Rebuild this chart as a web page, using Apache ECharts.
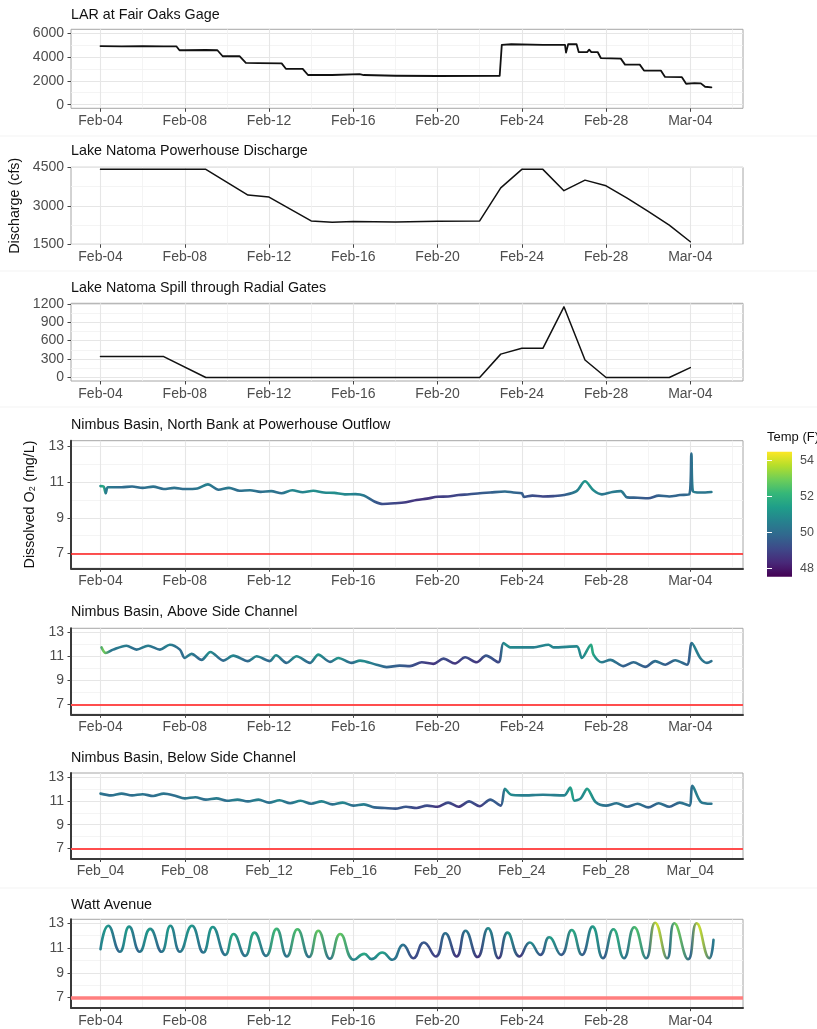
<!DOCTYPE html>
<html><head><meta charset="utf-8">
<script src="https://cdn.jsdelivr.net/npm/echarts@6/dist/echarts.min.js"></script>
<style>html,body{margin:0;padding:0;background:#fff}#c{width:817px;height:1029px}</style>
</head><body><div id="c"></div>
<script>
// ---------------- DATA ----------------
const xTickLabels = ['Feb-04','Feb-08','Feb-12','Feb-16','Feb-20','Feb-24','Feb-28','Mar-04'];
const xTickLabelsUnderscore = ['Feb_04','Feb_08','Feb_12','Feb_16','Feb_20','Feb_24','Feb_28','Mar_04'];
const panelTitles = ['LAR at Fair Oaks Gage','Lake Natoma Powerhouse Discharge','Lake Natoma Spill through Radial Gates',
  'Nimbus Basin, North Bank at Powerhouse Outflow','Nimbus Basin, Above Side Channel','Nimbus Basin, Below Side Channel','Watt Avenue'];
const dischargeTitle = 'Discharge (cfs)';
const doTitle = 'Dissolved O\u2082 (mg/L)';
const legendTitle = 'Temp (F)';
const doThreshold = 7;
const larTicks = [0,2000,4000,6000];
const phTicks = [1500,3000,4500];
const spTicks = [0,300,600,900,1200];
const doTicks = [7,9,11,13];
const tempTicks = [48,50,52,54];

// days since Feb-04 00:00
const larDay = [0,1,2,3,3.6,3.75,4,5,5.55,5.8,6.6,6.9,7.5,8.6,8.8,9.6,9.85,11,12.3,12.5,14,16,18.95,19.05,19.5,21,22.05,22.1,22.2,22.6,22.7,23.1,23.2,23.3,23.6,23.75,24.7,24.9,25.6,25.8,26.6,26.8,27.6,27.8,28.2,28.5,28.7,29.0];
const larFlow = [4900,4880,4900,4880,4880,4550,4550,4570,4550,4050,4050,3500,3480,3450,3000,3000,2480,2480,2550,2480,2420,2400,2420,5000,5050,5000,5000,4350,5050,5050,4400,4400,4600,4400,4400,3900,3850,3350,3350,2850,2850,2320,2300,1750,1800,1780,1500,1450];

const phDay  = [0,5,7,8,10,11,12,14,16,18,19,20,21,22,23,24,25,26,27,28];
const phFlow = [4420,4420,3420,3340,2410,2360,2390,2370,2400,2410,3700,4420,4420,3590,4000,3780,3300,2780,2250,1600];

const spDay  = [0,3,5,18,19,20,21,22,23,24,27,28];
const spFlow = [340,340,0,0,380,475,475,1150,285,0,0,160];

const nbDay = [0,0.15,0.25,0.35,1.0,1.5,2.0,2.5,3.0,3.5,4.0,4.6,5.1,5.6,6.1,6.6,7.1,7.6,8.1,8.6,9.1,9.6,10.1,10.6,11.1,11.6,12.1,12.5,13.0,13.4,14.0,14.5,15.0,15.5,16.0,16.5,17.0,17.5,18.0,18.5,19.2,19.6,20.0,20.1,20.5,21.0,21.5,22.0,22.6,23.0,23.4,23.8,24.3,24.7,25.0,25.5,26.0,26.5,27.0,27.5,27.95,28.05,28.12,28.5,29.0];
const nbDO  = [10.78,10.75,10.38,10.72,10.72,10.76,10.68,10.75,10.62,10.68,10.62,10.65,10.88,10.58,10.68,10.52,10.55,10.46,10.5,10.38,10.55,10.44,10.52,10.42,10.4,10.32,10.33,10.25,9.92,9.78,9.82,9.88,10.0,10.08,10.18,10.2,10.28,10.32,10.38,10.42,10.48,10.42,10.38,10.18,10.25,10.2,10.22,10.28,10.5,11.05,10.55,10.32,10.45,10.5,10.15,10.13,10.1,10.25,10.2,10.28,10.32,12.6,10.5,10.42,10.45];
const nbTemp= [50.3,51.5,51.8,50.5,50.0,50.0,50.0,50.2,50.0,50.2,50.0,50.2,50.6,50.0,50.4,50.0,50.3,50.0,50.3,50.0,50.8,50.6,51.0,50.8,51.0,50.8,50.6,50.4,49.5,49.2,49.0,48.8,48.6,48.6,48.8,48.9,49.0,49.3,49.5,49.6,50.0,49.8,49.6,49.4,49.2,49.0,49.2,49.6,50.6,51.3,50.8,50.2,50.4,50.4,49.8,49.6,49.4,49.8,49.8,49.8,50.0,50.6,50.4,50.2,50.4];

const abDay = [0.05,0.25,0.6,1.23,1.71,2.26,2.82,3.29,3.77,4.0,4.32,4.8,5.22,5.83,6.3,7.0,7.41,8.04,8.33,8.83,9.31,9.94,10.34,10.9,11.29,11.92,12.32,13.1,13.58,14.2,14.69,15.25,15.8,16.28,16.83,17.31,17.86,18.3,18.89,19.13,19.45,20.55,21.27,21.5,22.61,22.85,23.28,23.4,23.8,24.2,24.83,25.3,25.86,26.33,26.81,27.28,27.84,28.07,28.47,28.79,29.0];
const abDO  = [11.74,11.27,11.55,11.88,11.55,11.88,11.55,11.96,11.55,10.86,11.2,10.7,11.36,10.64,11.05,10.6,11.0,10.6,11.08,10.45,11.0,10.45,11.14,10.53,10.86,10.45,10.64,10.3,10.1,10.22,10.18,10.5,10.37,10.8,10.4,10.92,10.5,11.05,10.5,12.1,11.74,11.74,11.96,11.74,11.82,10.86,11.96,11.14,10.5,10.7,10.18,10.5,10.12,10.6,10.3,10.67,10.3,12.1,10.86,10.45,10.6];
const abTemp= [50.3,53.0,50.2,50.5,50.0,50.5,50.0,50.6,50.0,50.0,50.5,49.8,51.0,49.8,50.8,49.8,50.8,49.8,51.0,49.8,51.0,49.8,51.2,49.8,51.2,49.8,51.0,50.3,49.8,49.6,49.3,49.0,48.6,49.2,48.6,49.2,48.6,49.5,49.0,51.0,50.8,50.5,50.8,50.6,50.8,50.8,51.8,51.2,50.3,50.3,49.6,50.0,49.5,50.2,49.5,50.2,49.6,50.6,50.3,50.0,50.3];

const beDay = [0,0.5,1.0,1.5,2.0,2.5,3.0,3.5,4.0,4.5,5.0,5.5,6.0,6.5,7.0,7.5,8.0,8.5,9.0,9.5,10.0,10.5,11.0,11.5,12.0,12.5,13.0,13.5,14.0,14.5,15.0,15.5,16.0,16.5,17.0,17.5,18.0,18.5,19.0,19.2,19.5,20.0,21.0,22.0,22.3,22.5,22.8,23.1,23.5,24.0,24.5,25.0,25.5,26.0,26.5,27.0,27.5,27.95,28.1,28.5,29.0];
const beDO  = [11.6,11.45,11.6,11.45,11.55,11.4,11.6,11.45,11.2,11.3,11.1,11.2,11.0,11.1,10.95,11.1,10.85,11.05,10.8,11.0,10.75,10.95,10.7,10.85,10.6,10.7,10.45,10.4,10.35,10.5,10.4,10.6,10.5,10.85,10.5,10.95,10.55,11.1,10.6,12.0,11.5,11.45,11.5,11.45,12.1,11.0,11.2,12.0,10.9,10.6,10.8,10.5,10.75,10.45,10.8,10.5,10.85,10.6,12.25,10.9,10.75];
const beTemp= [50.3,50.0,50.3,50.0,50.3,50.0,50.3,50.0,50.2,50.4,50.0,50.5,50.0,50.6,50.0,50.6,50.0,50.8,50.0,50.8,50.0,50.8,50.0,50.8,50.0,50.6,49.8,49.6,49.4,49.4,49.0,49.2,48.6,49.2,48.6,49.3,48.8,49.6,49.4,51.0,50.8,50.5,50.5,50.6,51.5,50.8,50.8,51.5,50.5,50.0,50.3,49.8,50.2,49.6,50.2,49.6,50.2,50.0,50.6,50.3,50.2];

const wattDay = [0,0.37,0.92,1.36,1.86,2.36,2.9,3.32,3.77,4.34,4.88,5.33,5.93,6.32,6.87,7.31,7.86,8.36,8.85,9.35,9.9,10.34,10.89,11.38,12.03,12.52,12.87,13.37,13.86,14.36,14.85,15.35,15.92,16.37,16.91,17.33,17.9,18.4,18.9,19.32,19.89,20.38,20.88,21.3,21.87,22.37,22.86,23.36,23.85,24.35,24.85,25.34,25.9,26.33,26.9,27.24,27.9,28.3,28.9,29.1];
const wattDO  = [10.9,12.8,10.7,12.73,10.7,12.55,10.7,12.8,10.7,12.8,10.64,12.7,10.45,12.14,10.37,12.25,10.37,12.55,10.32,12.52,10.27,12.4,10.13,12.14,10.05,10.53,10.1,10.64,10.05,11.26,10.18,11.45,10.32,12.2,10.32,12.4,10.27,12.6,10.18,12.25,10.32,11.45,10.45,11.87,10.45,12.46,10.45,12.73,10.18,12.52,10.18,12.68,10.18,13.05,10.18,13.0,10.1,13.0,10.18,11.66];
const wattTemp= [50.2,51.3,49.8,51.3,49.8,51.3,49.8,51.3,50.0,51.3,50.0,51.3,50.0,51.8,50.0,51.8,50.0,52.3,50.0,52.5,50.0,52.8,50.0,52.8,50.5,51.8,50.5,51.5,50.2,50.2,49.0,49.5,48.8,50.2,48.5,50.5,48.5,51.0,48.6,51.3,48.6,51.0,49.2,51.5,49.4,51.8,49.5,51.5,49.5,52.0,50.0,52.5,50.0,54.0,50.0,53.0,49.8,54.0,50.0,51.0];

const tempMin = 47.53, tempMax = 54.5;

// ---------------- STYLE / LAYOUT ----------------
const FONT = '"Liberation Sans", Arial, Helvetica, sans-serif';
const VIR = ['#440154','#482878','#3e4989','#31688e','#26828e','#1f9e89','#35b779','#6ece58','#b5de2b','#fde725'];
function hex2rgb(h){return [parseInt(h.substr(1,2),16),parseInt(h.substr(3,2),16),parseInt(h.substr(5,2),16)];}
function viridis(t){
  t = Math.max(0, Math.min(1, t));
  const p = t*(VIR.length-1), i = Math.min(VIR.length-2, Math.floor(p)), f = p-i;
  const a = hex2rgb(VIR[i]), b = hex2rgb(VIR[i+1]);
  return 'rgb('+[0,1,2].map(k=>Math.round(a[k]+(b[k]-a[k])*f)).join(',')+')';
}
function tempColor(T){return viridis((T-tempMin)/(tempMax-tempMin));}
function gradientFor(days, temps){
  const x0 = days[0], x1 = days[days.length-1];
  return new echarts.graphic.LinearGradient(0,0,1,0, days.map((d,k)=>({offset:(d-x0)/(x1-x0), color:tempColor(temps[k])})));
}

const GL = 71, GW = 672;
const layout = [
  {top:29.3, h:79, titleY:14},
  {top:167.3, h:77, titleY:150},
  {top:303.3, h:77.7, titleY:287},
  {top:440.7, h:127.6, titleY:424},
  {top:628.3, h:86, titleY:610.7},
  {top:773, h:85.5, titleY:757},
  {top:919.3, h:88.4, titleY:904}
];
const DAYS_PER_UNIT = 4;
const xMinDays = -1.4, xMaxDays = 30.5;
const doShift = 1; // y' = y - 1 so that ticks at 7,9,11,13 fall on the nice grid

const tickColor = '#4d4d4d';
const gridMajor = '#e6e6e6', gridMinor = '#f1f1f1';
const xTickUnits = xTickLabels.map((_, k) => k);

const grids = [], xAxes = [], yAxes = [], series = [], titles = [];
layout.forEach((L, i) => {
  const isDO = i >= 3;
  grids.push({left:GL, top:L.top, width:GW, height:L.h, show:true, borderColor:'#a6a6a6', borderWidth:1, backgroundColor:'#fff', outerBoundsMode:'none', containLabel:false});
  titles.push({text:panelTitles[i], left:GL, top:L.titleY-6, padding:0, textStyle:{fontFamily:FONT, fontSize:14.3, fontWeight:'normal', color:'#111'}});
  const labs = (i === 5) ? xTickLabelsUnderscore : xTickLabels;
  xAxes.push({
    gridIndex:i, type:'value', min:xMinDays/DAYS_PER_UNIT, max:xMaxDays/DAYS_PER_UNIT, splitNumber:8,
    axisLine:{show:isDO, onZero:false, lineStyle:{color:'#3a3a3a', width:2}},
    axisTick:{show:true, length:3.5, customValues:xTickUnits, lineStyle:{color:'#444', width:1}},
    axisLabel:{margin:6, fontFamily:FONT, fontSize:14, color:tickColor, customValues:xTickUnits,
      formatter:v=>{const r=Math.round(v); return labs[r] || '';}},
    splitLine:{show:true, lineStyle:{color:gridMajor, width:1.1}},
    minorTick:{show:false, splitNumber:2},
    minorSplitLine:{show:true, lineStyle:{color:gridMinor, width:0.8}}
  });
  const common = {gridIndex:i, type:'value',
    axisLine:{show:isDO, onZero:false, lineStyle:{color:'#3a3a3a', width:2}},
    splitLine:{show:true, lineStyle:{color:gridMajor, width:1.1}},
    minorTick:{show:false, splitNumber:2},
    minorSplitLine:{show:true, lineStyle:{color:gridMinor, width:0.8}}};
  const tick = vals => ({show:true, length:3.5, customValues:vals, lineStyle:{color:'#444', width:1}});
  const lab = (vals, f) => ({margin:7, fontFamily:FONT, fontSize:14, color:tickColor, customValues:vals, formatter:f});
  let y;
  if (i === 0) y = Object.assign({}, common, {min:-300, max:6300, splitNumber:3, axisTick:tick(larTicks), axisLabel:lab(larTicks, v=>String(v))});
  else if (i === 1) y = Object.assign({}, common, {min:1500, max:4500, interval:1500, axisTick:tick(phTicks), axisLabel:lab(phTicks, v=>String(v)),
     name:dischargeTitle, nameLocation:'middle', nameGap:44, nameRotate:90, nameTextStyle:{fontFamily:FONT, fontSize:14.3, color:'#111'}});
  else if (i === 2) y = Object.assign({}, common, {min:-57.5, max:1207.5, splitNumber:4, axisTick:tick(spTicks), axisLabel:lab(spTicks, v=>String(v))});
  else {
    const sv = doTicks.map(v => v - doShift);
    y = Object.assign({}, common, {min:6.175-doShift, max:13.325-doShift, splitNumber:4, axisTick:tick(sv),
      axisLabel:lab(sv, v=>String(Math.round(v+doShift)))});
    if (i === 3) Object.assign(y, {name:doTitle, nameLocation:'middle', nameGap:31, nameRotate:90, nameTextStyle:{fontFamily:FONT, fontSize:14.3, color:'#111'}});
  }
  yAxes.push(y);
});

function lineSeries(i, days, vals, color, width, smooth, shift){
  return {type:'line', xAxisIndex:i, yAxisIndex:i, showSymbol:false, symbol:'none', smooth:smooth, animation:false,
    data: days.map((d,k)=>[d/DAYS_PER_UNIT, vals[k]-(shift||0)]),
    lineStyle:{color:color, width:width, cap:'round', join:'round'}, z:3};
}
series.push(lineSeries(0, larDay, larFlow, '#111', 1.8, false));
series.push(lineSeries(1, phDay, phFlow, '#111', 1.5, false));
series.push(lineSeries(2, spDay, spFlow, '#111', 1.5, false));
const redStyles = [
  {color:'#ff1a1a', width:1.6},
  {color:'#ff4d4d', width:2.2},
  {color:'#ff4d4d', width:2.2},
  {color:'#ff7f7f', width:3.5}
];
[[nbDay,nbDO,nbTemp],[abDay,abDO,abTemp],[beDay,beDO,beTemp],[wattDay,wattDO,wattTemp]].forEach((s, j) => {
  const i = 3 + j;
  const ser = lineSeries(i, s[0], s[1], gradientFor(s[0], s[2]), 2.6, j===3 ? 0.5 : 0.3, doShift);
  ser.markLine = {silent:true, symbol:'none', label:{show:false}, animation:false,
    lineStyle:Object.assign({type:'solid'}, redStyles[j]), data:[{yAxis:doThreshold-doShift}]};
  series.push(ser);
});

// colour bar grid (index 7)
grids.push({left:767, top:451.7, width:25, height:125, show:true, borderWidth:0, outerBoundsMode:'none', containLabel:false,
  backgroundColor:new echarts.graphic.LinearGradient(0,1,0,0, VIR.map((c,k)=>({offset:k/(VIR.length-1), color:c})))});
xAxes.push({gridIndex:7, type:'value', min:0, max:1, show:false});
const cbAxis = (pos, showLab) => ({gridIndex:7, type:'value', position:pos, min:tempMin, max:tempMax, splitNumber:3,
  axisLine:{show:false}, splitLine:{show:false},
  axisTick:{show:true, inside:true, length:5, customValues:tempTicks, lineStyle:{color:'#ffffff', width:1}},
  axisLabel:{show:showLab, margin:8, fontFamily:FONT, fontSize:12.5, color:tickColor, customValues:tempTicks,
    formatter:v=>String(Math.round(v))}});
yAxes.push(cbAxis('right', true));
yAxes.push(cbAxis('left', false));

const sepY = [136, 271, 407, 888];
const graphic = sepY.map(y=>({type:'line', shape:{x1:0, y1:y, x2:817, y2:y}, style:{stroke:'#f3f3f3', lineWidth:1}, silent:true}));
graphic.push({type:'text', left:767, top:431, style:{text:legendTitle, font:'13px '+FONT, fill:'#111'}});

const chart = echarts.init(document.getElementById('c'), null, {renderer:'canvas', width:817, height:1029});
chart.setOption({
  animation:false,
  backgroundColor:'#ffffff',
  textStyle:{fontFamily:FONT},
  title:titles, grid:grids, xAxis:xAxes, yAxis:yAxes, series:series, graphic:graphic
});
</script></body></html>
